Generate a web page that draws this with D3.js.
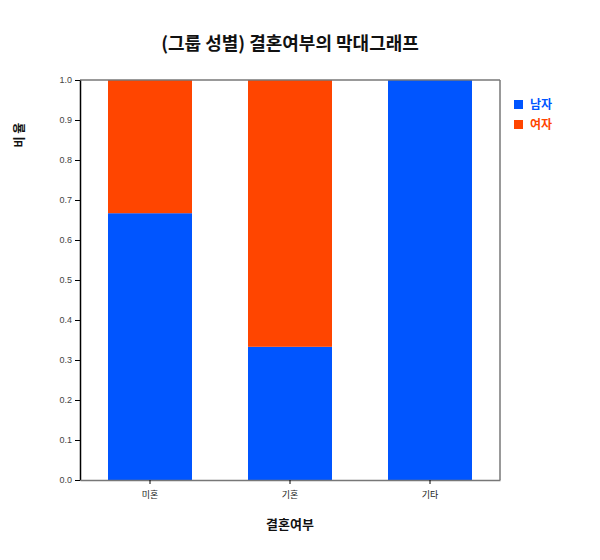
<!DOCTYPE html>
<html><head><meta charset="utf-8">
<script src="https://cdn.jsdelivr.net/npm/d3@7"></script>
<style>body{margin:0;background:#fff;} text{font-family:"Noto Sans CJK KR","Noto Sans",sans-serif;}</style>
</head><body>
<svg id="c" width="600" height="560"></svg>
<script>
const categories = ["미혼", "기혼", "기타"];
const seriesNames = ["남자", "여자"];
const male = [0.667, 0.333, 1.0];
const female = [0.333, 0.667, 0.0];
const yTicks = [0.0,0.1,0.2,0.3,0.4,0.5,0.6,0.7,0.8,0.9,1.0];
const colors = ["#0055ff", "#ff4500"];

const svg = d3.select("#c");
const m = {l:80, r:100, t:80, b:80};
const W = 600, H = 560;
const x = d3.scaleBand().domain(categories).range([m.l, W-m.r]).paddingInner(0.4).paddingOuter(0.2);
const y = d3.scaleLinear().domain([0,1]).range([H-m.b, m.t]);

const rows = categories.map((c,i)=>({cat:c, "남자":male[i], "여자":female[i]}));
const stacked = d3.stack().keys(seriesNames)(rows);

svg.append("g").selectAll("g").data(stacked).join("g")
  .attr("fill",(d,i)=>colors[i])
  .selectAll("rect").data(d=>d).join("rect")
  .attr("x",d=>x(d.data.cat)).attr("width",x.bandwidth())
  .attr("y",d=>y(d[1])).attr("height",d=>y(d[0])-y(d[1]));

// frame top/right
svg.append("line").attr("x1",m.l).attr("x2",W-m.r).attr("y1",m.t).attr("y2",m.t).attr("stroke","#777").attr("stroke-width",1.5);
svg.append("line").attr("x1",W-m.r).attr("x2",W-m.r).attr("y1",m.t).attr("y2",H-m.b).attr("stroke","#777").attr("stroke-width",1.5);

const ya = svg.append("g").attr("transform",`translate(${m.l},0)`)
  .call(d3.axisLeft(y).tickValues(yTicks).tickFormat(d3.format(".1f")).tickSize(5).tickSizeOuter(0));
ya.select(".domain").attr("stroke","#000").attr("stroke-width",1.5);
ya.selectAll(".tick line").attr("stroke","#000");
ya.selectAll(".tick text").attr("fill","#444").style("font-size","9px").style("font-family","Liberation Sans, Arial, sans-serif");

const xa = svg.append("g").attr("transform",`translate(0,${H-m.b})`)
  .call(d3.axisBottom(x).tickSize(4).tickSizeOuter(0));
xa.select(".domain").attr("stroke","#777").attr("stroke-width",1.5);
xa.selectAll(".tick line").attr("stroke","#000");
xa.selectAll(".tick text").attr("fill","#222").style("font-size","9px").attr("dy","1.2em");

svg.append("text").attr("x",290).attr("y",50).attr("text-anchor","middle")
  .style("font-size","18px").style("font-weight","bold").attr("fill","#111").text("(그룹 성별) 결혼여부의 막대그래프");
svg.append("text").attr("x",290).attr("y",529).attr("text-anchor","middle")
  .style("font-size","13px").style("font-weight","bold").attr("fill","#111").text("결혼여부");
svg.append("text").attr("transform","translate(24,135) rotate(-90)").attr("text-anchor","middle")
  .style("font-size","12px").style("font-weight","bold").attr("fill","#111").text("비 율");

const lg = svg.append("g").attr("transform","translate(514,100)");
seriesNames.forEach((s,i)=>{
  lg.append("rect").attr("x",0).attr("y",i*20).attr("width",9).attr("height",9).attr("fill",colors[i]);
  lg.append("text").attr("x",16).attr("y",i*20+9).style("font-size","12px").style("font-weight","bold").attr("fill",colors[i]).text(s);
});
</script>
</body></html>
